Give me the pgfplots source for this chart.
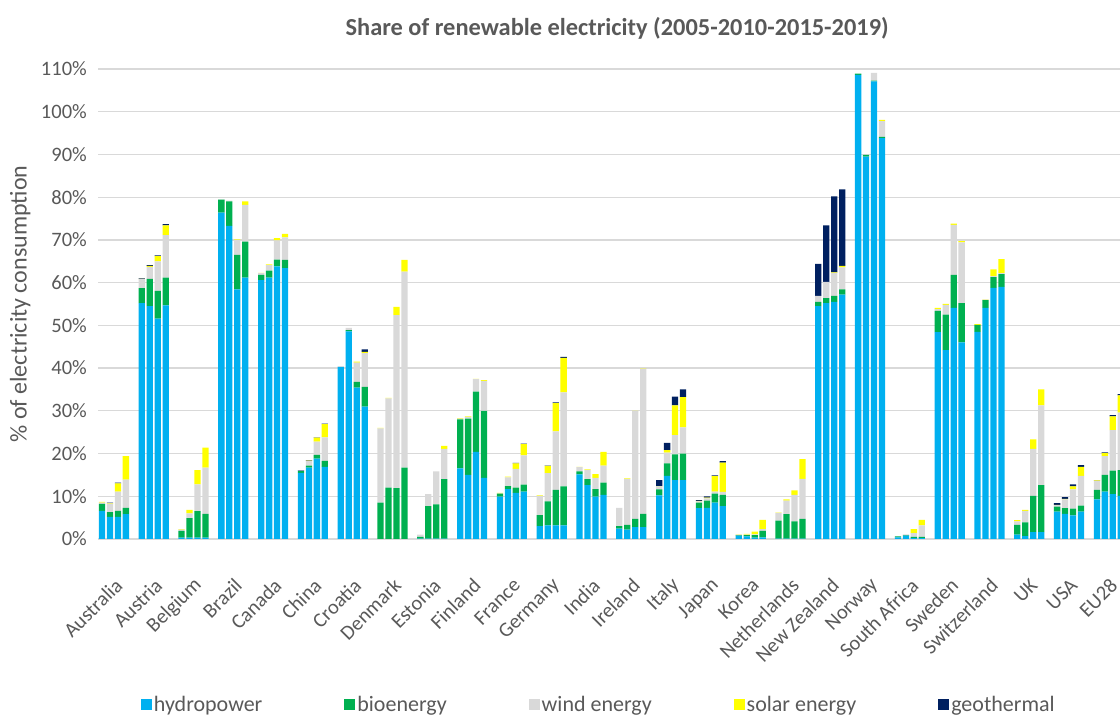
\documentclass[border=0pt]{standalone}
\usepackage{fontspec}
\setmainfont{Carlito}
\usepackage{pgfplots}
\usepackage{pgfplotstable}
\pgfplotsset{compat=1.18}
\definecolor{txt}{HTML}{595959}
\definecolor{hydro}{HTML}{00B0F0}
\definecolor{bio}{HTML}{00B050}
\definecolor{wind}{HTML}{D9D9D9}
\definecolor{solar}{HTML}{FFFF00}
\definecolor{geo}{HTML}{002060}
\definecolor{gridc}{HTML}{D9D9D9}

\pgfplotstableread{
x hydro bio wind solar geo
0 6.6 1.6 0.3 0.2 0
1 5.2 1.1 2.0 0.1 0.1
2 5.2 1.4 4.5 1.9 0.2
3 5.8 1.5 6.6 5.5 0
5 55.2 3.5 2.1 0.1 0.1
6 54.5 6.4 2.8 0.2 0.2
7 51.6 6.5 6.9 1.2 0.2
8 54.7 6.5 9.9 2.3 0.3
10 0.3 1.6 0.3 0.1 0
11 0.3 4.6 1.1 0.8 0
12 0.3 6.2 6.3 3.3 0
13 0.3 5.6 10.8 4.7 0
15 76.4 3.0 0.1 0 0
16 73.3 5.7 0.2 0 0
17 58.4 8.1 3.5 0.1 0
18 61.2 8.4 8.6 0.8 0
20 60.6 1.2 0.4 0.1 0
21 61.2 1.6 1.3 0.2 0
22 63.8 1.6 4.5 0.5 0
23 63.4 1.9 5.3 0.8 0
25 15.5 0.4 0.1 0 0.1
26 16.7 0.5 1.1 0.05 0.1
27 18.8 0.9 3.1 0.9 0.1
28 16.9 1.4 5.5 3.1 0.1
30 40.3 0 0.1 0 0
31 48.6 0.3 0.5 0 0
32 35.4 1.4 4.5 0.2 0
33 31.0 4.6 7.9 0.3 0.6
35 0 8.5 17.4 0.1 0
36 0 12.0 20.9 0.1 0
37 0 11.9 40.5 1.9 0
38 0 16.7 45.9 2.7 0
40 0.1 0.4 0.5 0 0
41 0.1 7.6 2.8 0 0
42 0.1 8.0 7.7 0 0
43 0.1 13.9 7.1 0.7 0
45 16.5 11.5 0.2 0.1 0
46 15.0 13.2 0.4 0.1 0
47 20.4 14.1 2.9 0.1 0
48 14.3 15.7 7.0 0.2 0
50 9.9 0.7 0.1 0.1 0
51 11.7 0.7 2.0 0.2 0
52 10.8 1.2 4.4 1.3 0.1
53 11.1 1.6 6.9 2.6 0.1
55 3.0 2.6 4.5 0.1 0
56 3.2 5.6 6.6 1.7 0.1
57 3.2 8.3 13.7 6.6 0.2
58 3.2 9.1 22.0 8.1 0.2
60 15.1 0.7 1.0 0.1 0
61 12.6 1.4 2.2 0.1 0
62 9.9 1.8 2.6 0.9 0
63 10.3 2.9 4.0 3.2 0
65 2.4 0.6 4.3 0 0
66 2.2 1.1 10.8 0.1 0
67 2.8 1.9 25.2 0.1 0
68 2.8 3.1 33.9 0.1 0
70 10.2 1.4 0.7 0.1 1.4
71 14.8 2.9 2.5 0.6 1.7
72 13.8 6.0 4.5 7.0 2.0
73 13.8 6.2 6.1 7.1 1.8
75 7.2 1.3 0.3 0.1 0.2
76 7.3 1.7 0.5 0.2 0.3
77 8.5 2.1 0.5 3.6 0.2
78 7.7 2.6 0.7 6.9 0.3
80 0.8 0.1 0.1 0.1 0
81 0.6 0.3 0.1 0.2 0
82 0.3 0.6 0.2 0.6 0
83 0.4 1.5 0.4 2.2 0
85 0.1 4.2 1.8 0.1 0
86 0.1 5.7 3.2 0.3 0
87 0.1 4.0 6.2 1.1 0
88 0.1 4.6 9.4 4.6 0
90 54.5 1.0 1.4 0 7.5
91 55.2 1.2 3.8 0 13.2
92 55.5 1.4 5.4 0.1 17.8
93 57.2 1.2 5.2 0.3 17.9
95 108.6 0.3 0 0 0
96 89.5 0.4 0 0 0
97 107.1 0.2 1.8 0 0
98 93.8 0.3 3.7 0.3 0
100 0.4 0.2 0.1 0 0
101 0.8 0.1 0.2 0 0
102 0.2 0.3 0.9 0.9 0
103 0.2 0.3 2.7 1.3 0
105 48.4 5.0 0.4 0.3 0
106 44.2 8.3 2.3 0.2 0
107 54.1 7.7 11.7 0.3 0
108 46.0 9.2 14.2 0.3 0
110 48.5 1.6 0 0.2 0
111 54.1 1.8 0.1 0.1 0
112 58.8 2.5 0.2 1.6 0
113 59.0 3.0 0.2 3.3 0
115 1.0 2.3 0.8 0.3 0
116 0.7 3.2 2.7 0.2 0
117 1.6 8.5 11.0 2.2 0
118 1.6 11.0 18.7 3.7 0
120 6.4 1.2 0.3 0.1 0.4
121 5.9 1.3 2.1 0.1 0.4
122 5.5 1.6 4.5 0.7 0.5
123 6.4 1.4 7.0 2.1 0.4
125 9.3 2.2 2.1 0.1 0.1
126 11.1 3.9 4.4 0.7 0.2
127 10.5 5.5 9.5 3.2 0.3
128 10.1 6.0 13.5 4.0 0.3
}\data

\begin{document}
\begin{tikzpicture}
\useasboundingbox (0,0) rectangle (1120bp,715bp);
\begin{axis}[
  at={(98bp,176bp)}, anchor=south west,
  scale only axis, width=1022bp, height=470bp,
  xmin=-0.5, xmax=127.9, ymin=0, ymax=110,
  ybar stacked, bar width=0.79,
  ytick={0,10,...,110},
  yticklabel={\pgfmathprintnumber{\tick}\%},
  /pgf/number format/assume math mode=true,
  ymajorgrids, grid style={draw=gridc, line width=1.2bp},
  axis line style={draw=none},
  major tick length=0pt,
  xtick={1.5,6.5,...,126.5},
  xticklabels={Australia,Austria,Belgium,Brazil,Canada,China,Croatia,Denmark,Estonia,Finland,France,Germany,India,Ireland,Italy,Japan,Korea,Netherlands,New Zealand,Norway,South Africa,Sweden,Switzerland,UK,USA,EU28},
  tick label style={font=\fontsize{20.5bp}{24bp}\selectfont, text=txt},
  xticklabel style={xshift=5bp, yshift=-43bp, rotate=45, anchor=east, inner sep=0pt},
  yticklabel style={anchor=east, inner sep=0pt, xshift=-11bp},
  ylabel={\% of electricity consumption},
  ylabel style={at={(axis description cs:-0.076,0.5)}, anchor=center, font=\fontsize{24bp}{28bp}\selectfont, text=txt},
  title={Share of renewable electricity (2005-2010-2015-2019)},
  title style={at={(axis description cs:0.508,1.074)}, anchor=center, font=\bfseries\fontsize{24.4bp}{28bp}\selectfont, text=txt},
  legend image code/.code={\fill[#1] (0bp,-5.5bp) rectangle (11bp,5.5bp);},
  legend columns=5,
  legend style={at={(axis description cs:0.49,-0.353)}, anchor=center, draw=none, fill=none,
    font=\fontsize{22bp}{26bp}\selectfont, text=txt,
    /tikz/every even column/.append style={column sep=80bp}},
]
\addplot[fill=hydro, draw=none] table[x=x,y=hydro]{\data};
\addplot[fill=bio, draw=none] table[x=x,y=bio]{\data};
\addplot[fill=wind, draw=none] table[x=x,y=wind]{\data};
\addplot[fill=solar, draw=none] table[x=x,y=solar]{\data};
\addplot[fill=geo, draw=none] table[x=x,y=geo]{\data};
\legend{hydropower,bioenergy,wind energy,solar energy,geothermal}
\end{axis}
\end{tikzpicture}
\end{document}
